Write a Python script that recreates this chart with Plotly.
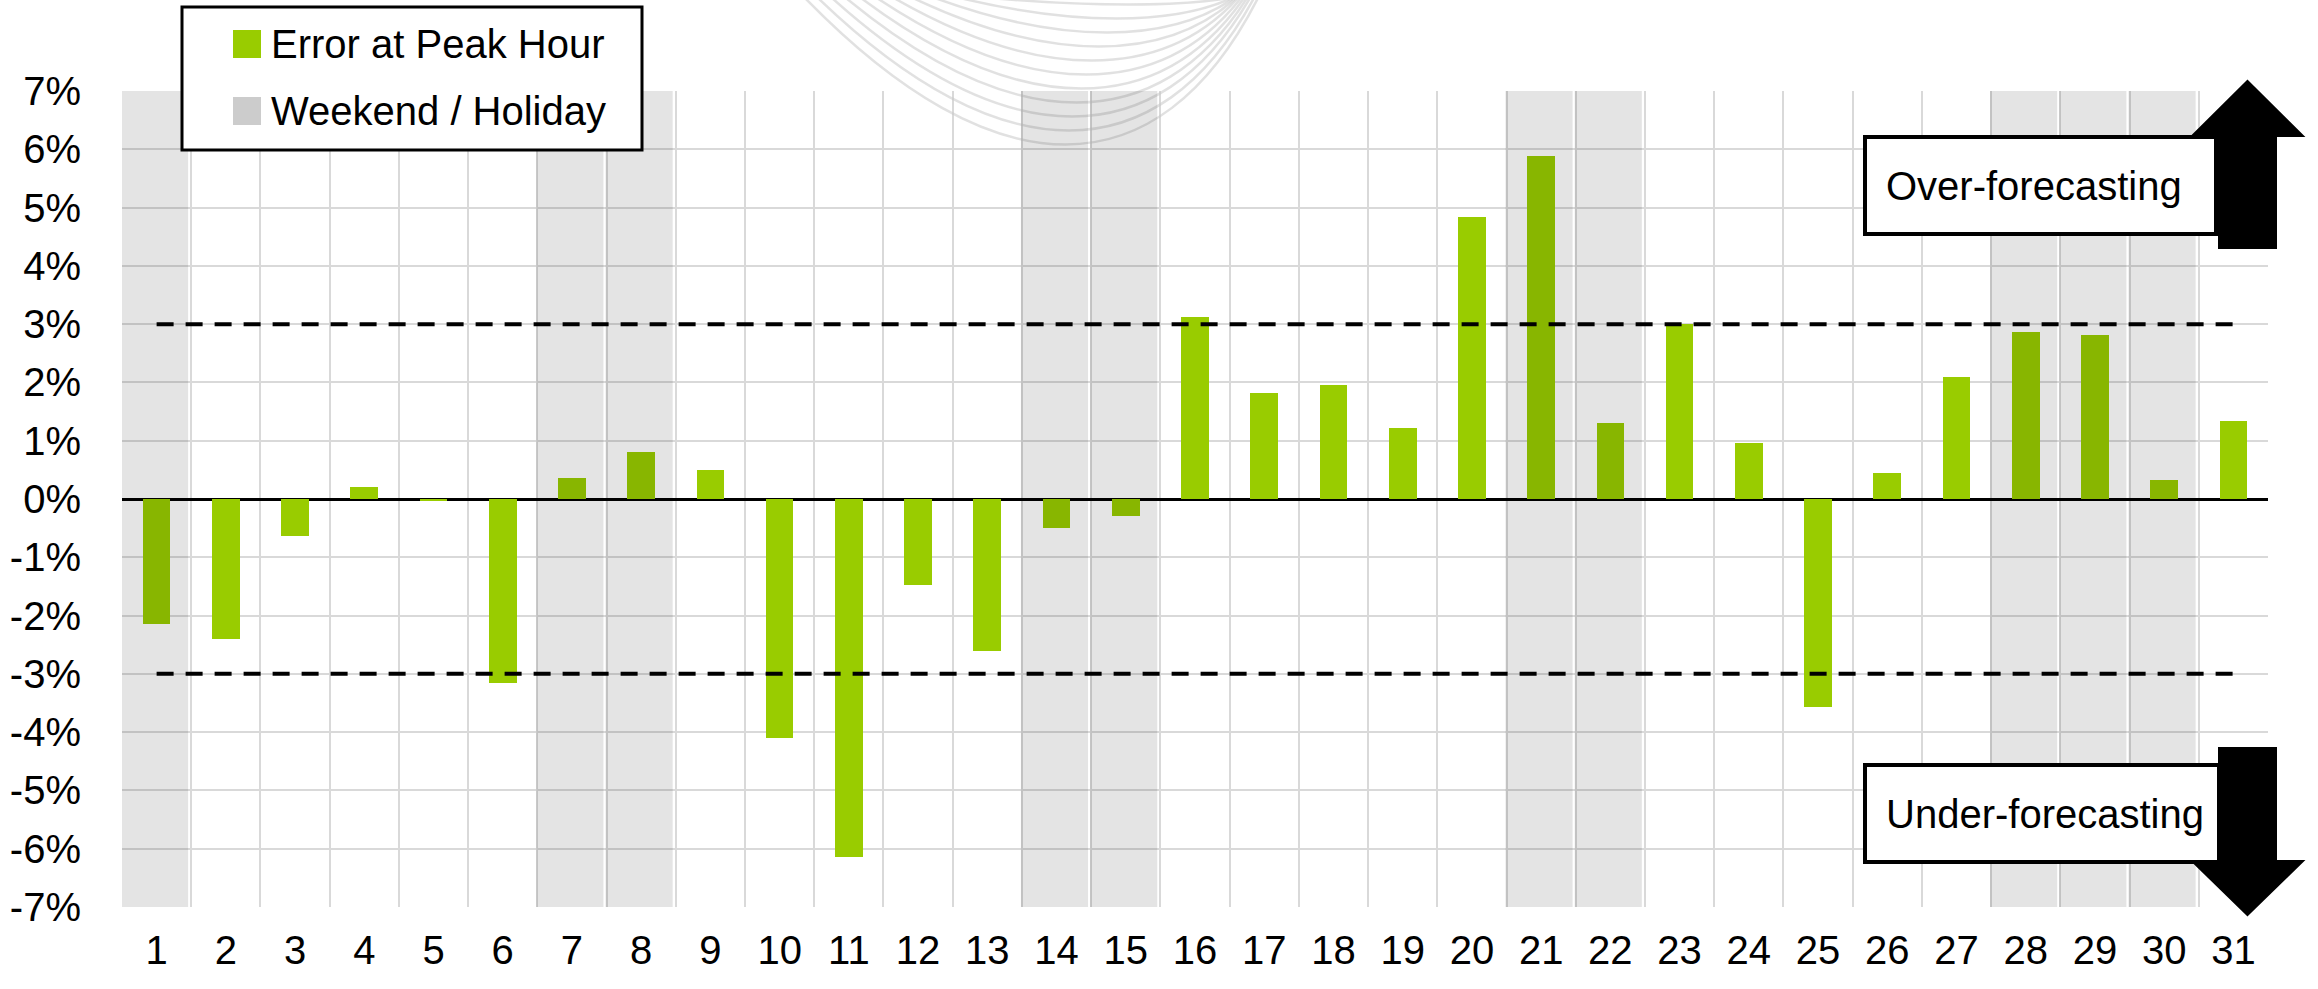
import plotly.graph_objects as go

# ---- data ----
days = list(range(1, 32))
errors = [-2.15, -2.40, -0.63, 0.20, -0.03, -3.15, 0.36, 0.81, 0.50, -4.10,
          -6.15, -1.47, -2.60, -0.49, -0.30, 3.13, 1.82, 1.95, 1.21, 4.84,
          5.88, 1.31, 3.01, 0.96, -3.56, 0.45, 2.10, 2.87, 2.82, 0.32, 1.34]
weekend_days = [1, 7, 8, 14, 15, 21, 22, 28, 29, 30]
threshold = [3, -3]
y_ticks = list(range(-7, 8))
y_ticktext = [f"{v}%" for v in y_ticks]
series_name = "Error at Peak Hour"
band_name = "Weekend / Holiday"

W, H = 2318, 989
ML, MR, MT, MB = 122, 50, 91, 82
PW, PH = W - ML - MR, H - MT - MB

def px(x):
    return (x - ML) / PW

def py(y):
    return (H - MB - y) / PH

FONT = "Liberation Sans Narrow, Arial Narrow, Liberation Sans, Arial, sans-serif"
FS = 40
GREEN = "#99cc00"
GRID = "#d9d9d9"

fig = go.Figure()
fig.add_trace(go.Bar(x=days, y=errors, name=series_name, marker_color=GREEN,
                     marker_line_width=0, width=0.4, showlegend=False))
for t in threshold:
    fig.add_trace(go.Scatter(x=[days[0], days[-1]], y=[t, t], mode="lines",
                             line=dict(color="black", width=4, dash="17px,12px"),
                             showlegend=False, hoverinfo="skip"))

shapes = []
# decorative watermark arcs
arcs = [(145, 805, 1258), (131, 818, 1254), (117, 832, 1250), (103, 846, 1247),
        (89, 861, 1244), (75, 877, 1241), (61, 894, 1238), (47, 913, 1236),
        (33, 935, 1234), (19, 960, 1232), (5, 990, 1230)]
for yb, xl, xr in arcs:
    h = yb / 0.75
    p0 = (px(xl), py(-2))
    p1 = (px(xl + 0.42 * (xr - xl)), py(h))
    p2 = (px(xr - 0.22 * (xr - xl)), py(h))
    p3 = (px(xr), py(-2))
    path = f"M {p0[0]},{p0[1]} C {p1[0]},{p1[1]} {p2[0]},{p2[1]} {p3[0]},{p3[1]}"
    shapes.append(dict(type="path", path=path, xref="paper", yref="paper",
                       line=dict(color="rgba(200,200,200,0.55)", width=2.5), layer="above"))

# weekend / holiday bands (semi-transparent overlay)
for d in weekend_days:
    shapes.append(dict(type="rect", xref="x", yref="paper", x0=d - 0.515, x1=d + 0.455,
                       y0=0, y1=1, fillcolor="rgba(0,0,0,0.105)", line_width=0, layer="above"))

# legend box
shapes.append(dict(type="rect", xref="paper", yref="paper", x0=px(182), x1=px(642),
                   y0=py(150), y1=py(7), fillcolor="white", line=dict(color="black", width=3),
                   layer="above"))
shapes.append(dict(type="rect", xref="paper", yref="paper", x0=px(233), x1=px(261),
                   y0=py(58), y1=py(30), fillcolor=GREEN, line_width=0, layer="above"))
shapes.append(dict(type="rect", xref="paper", yref="paper", x0=px(233), x1=px(261),
                   y0=py(125), y1=py(97), fillcolor="#cccccc", line_width=0, layer="above"))

# arrows
cx = 2247.5
def arrow(tip, base, end):
    pts = [(cx, tip), (2303, base), (2276, base), (2276, end), (2219, end), (2219, base), (2192, base)]
    return "M " + " L ".join(f"{px(a)},{py(b)}" for a, b in pts) + " Z"

shapes.append(dict(type="path", path=arrow(81, 136, 248), xref="paper", yref="paper",
                   fillcolor="black", line=dict(color="black", width=2), layer="above"))
shapes.append(dict(type="path", path=arrow(915, 861, 748), xref="paper", yref="paper",
                   fillcolor="black", line=dict(color="black", width=2), layer="above"))
# boxes
shapes.append(dict(type="rect", xref="paper", yref="paper", x0=px(1865), x1=px(2216),
                   y0=py(234), y1=py(137), fillcolor="white", line=dict(color="black", width=4),
                   layer="above"))
shapes.append(dict(type="rect", xref="paper", yref="paper", x0=px(1865), x1=px(2219),
                   y0=py(862), y1=py(765), fillcolor="white", line=dict(color="black", width=4),
                   layer="above"))

annotations = [
    dict(text=series_name, x=px(269), y=py(44), xref="paper", yref="paper",
         xanchor="left", yanchor="middle", showarrow=False, font=dict(size=FS, color="black", family=FONT)),
    dict(text=band_name, x=px(269), y=py(111), xref="paper", yref="paper",
         xanchor="left", yanchor="middle", showarrow=False, font=dict(size=FS, color="black", family=FONT)),
    dict(text="Over-forecasting", x=px(1884), y=py(186), xref="paper", yref="paper",
         xanchor="left", yanchor="middle", showarrow=False, font=dict(size=FS, color="black", family=FONT)),
    dict(text="Under-forecasting", x=px(1884), y=py(814), xref="paper", yref="paper",
         xanchor="left", yanchor="middle", showarrow=False, font=dict(size=FS, color="black", family=FONT)),
]

fig.update_layout(
    width=W, height=H,
    margin=dict(l=ML, r=MR, t=MT, b=MB, pad=0, autoexpand=False),
    plot_bgcolor="white", paper_bgcolor="white",
    font=dict(family=FONT, size=FS, color="black"),
    shapes=shapes, annotations=annotations,
    showlegend=False, bargap=0,
)
fig.update_xaxes(range=[0.5, 31.5], tickmode="array", tickvals=days,
                 ticktext=[str(d) for d in days], showgrid=False, zeroline=False,
                 ticks="", ticklabelstandoff=16, automargin=False,
                 minor=dict(tickvals=[d - 0.5 for d in days] + [31.5], showgrid=True,
                            gridcolor=GRID, gridwidth=2, ticks=""),
                 showline=False)
fig.update_yaxes(range=[-7, 7], tickmode="array", tickvals=y_ticks, ticktext=y_ticktext,
                 showgrid=True, gridcolor=GRID, gridwidth=2, automargin=False,
                 zeroline=True, zerolinecolor="black", zerolinewidth=3,
                 ticks="", ticklabelstandoff=40, showline=False)

fig.write_html("out.html", config={"displayModeBar": False},
               post_script="document.body.style.margin='0';document.body.style.overflow='hidden';")
